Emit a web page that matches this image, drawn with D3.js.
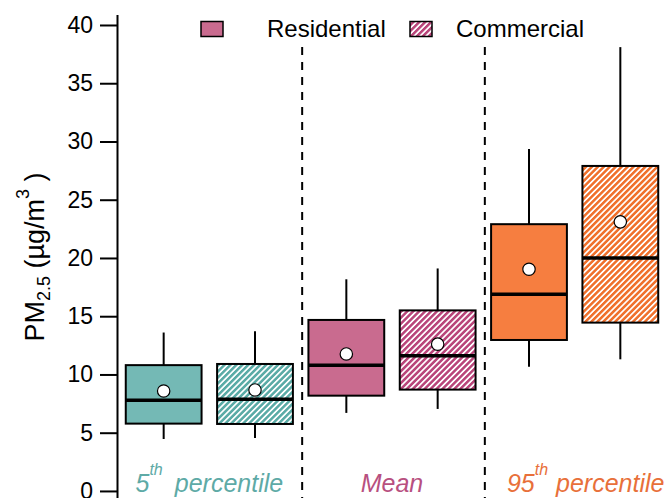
<!DOCTYPE html>
<html>
<head>
<meta charset="utf-8">
<script src="https://cdn.jsdelivr.net/npm/d3@7"></script>
<style>
  body { margin: 0; background: #fff; }
  text { font-family: "Liberation Sans", Arial, sans-serif; }
</style>
</head>
<body>
<div id="chart"></div>
<script>
var categories = ["5th", "Mean", "95th"];
var seriesNames = ["Residential", "Commercial"];

// one value per box, order: 5th Res, 5th Com, Mean Res, Mean Com, 95th Res, 95th Com
var whiskerLow  = [4.46, 4.55, 6.7, 7.04, 10.67, 11.3];
var q1Values    = [5.78, 5.75, 8.18, 8.7, 12.96, 14.45];
var medianVals  = [7.78, 7.87, 10.8, 11.6, 16.88, 20.0];
var q3Values    = [10.8, 10.9, 14.68, 15.5, 22.9, 27.9];
var whiskerHigh = [13.6, 13.7, 18.17, 19.1, 29.36, 38.1];
var meanValues  = [8.58, 8.67, 11.76, 12.6, 19.03, 23.1];

var yTicks = [0, 5, 10, 15, 20, 25, 30, 35, 40];

var colors = {"5th": "#74b9b5", "Mean": "#c96b8f", "95th": "#f67e40"};
var hatchColors = {"5th": "#5aaba6", "Mean": "#b9457a", "95th": "#f0702c"};
var labelColors = {"5th": "#5eaaa6", "Mean": "#b8507f", "95th": "#e8703a"};

var svgWidth = 670;
var svgHeight = 498;

var svg = d3.select("#chart")
    .append("svg")
    .attr("width", svgWidth)
    .attr("height", svgHeight);

// hatch patterns for commercial boxes
var defs = svg.append("defs");
categories.forEach(function(c) {
    var p = defs.append("pattern")
        .attr("id", "hatch-" + c)
        .attr("patternUnits", "userSpaceOnUse")
        .attr("width", 4.2)
        .attr("height", 4.2)
        .attr("patternTransform", "rotate(45)");
    p.append("rect")
        .attr("width", 4.2).attr("height", 4.2)
        .attr("fill", "#fff");
    p.append("rect")
        .attr("width", 2.5).attr("height", 4.2)
        .attr("fill", hatchColors[c]);
});

var boxes = [];
categories.forEach(function(c, gi) {
    seriesNames.forEach(function(s, si) {
        var i = gi * 2 + si;
        boxes.push({
            cat: c, series: s,
            low: whiskerLow[i], q1: q1Values[i], med: medianVals[i],
            q3: q3Values[i], high: whiskerHigh[i], mean: meanValues[i]
        });
    });
});

var x0 = d3.scaleBand()
    .domain(categories)
    .range([118, 666])
    .padding(0);

var x1 = d3.scaleBand()
    .domain(seriesNames)
    .range([0, x0.bandwidth()])
    .padding(0);

var boxW = x1.bandwidth() * 0.83;

var y = d3.scaleLinear()
    .domain([-1, 40.9])
    .range([502.6, 14.5]);

// dashed separators
svg.selectAll(".sep")
    .data(categories.slice(1))
    .enter()
    .append("line")
    .attr("x1", d => x0(d) + 1.5)
    .attr("x2", d => x0(d) + 1.5)
    .attr("y1", y(38.1))
    .attr("y2", svgHeight + 5)
    .attr("stroke", "#000")
    .attr("stroke-width", 2)
    .attr("stroke-dasharray", "8,7");

// y axis
var leftAxis = d3.axisLeft(y)
    .tickValues(yTicks)
    .tickSize(17)
    .tickSizeOuter(0)
    .tickPadding(7);

var axisG = svg.append("g")
    .attr("transform", "translate(117,0)")
    .call(leftAxis);
axisG.selectAll("path, line")
    .attr("stroke", "#000")
    .attr("stroke-width", 2);
axisG.selectAll("text")
    .attr("font-size", "23px")
    .attr("font-family", "Liberation Sans, Arial, sans-serif")
    .attr("fill", "#000");

var boxG = svg.selectAll(".box")
    .data(boxes)
    .enter()
    .append("g")
    .attr("transform", d => `translate(${x0(d.cat) + x1(d.series) + x1.bandwidth() / 2}, 0)`);

// whiskers
boxG.append("line")
    .attr("x1", 0).attr("x2", 0)
    .attr("y1", d => y(d.high))
    .attr("y2", d => y(d.q3))
    .attr("stroke", "#000")
    .attr("stroke-width", 2);
boxG.append("line")
    .attr("x1", 0).attr("x2", 0)
    .attr("y1", d => y(d.q1))
    .attr("y2", d => y(d.low))
    .attr("stroke", "#000")
    .attr("stroke-width", 2);

boxG.append("rect")
    .attr("x", -boxW / 2)
    .attr("width", boxW)
    .attr("y", d => y(d.q3))
    .attr("height", d => y(d.q1) - y(d.q3))
    .attr("fill", d => d.series == "Residential" ? colors[d.cat] : "url(#hatch-" + d.cat + ")")
    .attr("stroke", "#000")
    .attr("stroke-width", 2);

boxG.append("line")
    .attr("x1", -boxW / 2).attr("x2", boxW / 2)
    .attr("y1", d => y(d.med))
    .attr("y2", d => y(d.med))
    .attr("stroke", "#000")
    .attr("stroke-width", 3.5);

boxG.append("circle")
    .attr("cx", 0)
    .attr("cy", d => y(d.mean))
    .attr("r", 6.2)
    .attr("fill", "#fff")
    .attr("stroke", "#000")
    .attr("stroke-width", 1.2);

// category labels
var labelData = [
    {cat: "5th", main: "5", sup: "th", rest: "percentile"},
    {cat: "Mean", main: "Mean", sup: "", rest: ""},
    {cat: "95th", main: "95", sup: "th", rest: "percentile"}
];
labelData.forEach(function(l) {
    var t = svg.append("text")
        .attr("x", x0(l.cat) + x0.bandwidth() / 2 + (l.cat == "95th" ? 11 : 0))
        .attr("y", 492)
        .attr("text-anchor", "middle")
        .attr("font-size", "25px")
        .attr("font-style", "italic")
        .attr("fill", labelColors[l.cat]);
    t.append("tspan").text(l.main);
    if (l.sup) {
        t.append("tspan").attr("dy", -17).attr("font-size", "16px").text(l.sup);
        t.append("tspan").attr("dy", 17).attr("dx", l.cat == "95th" ? 8 : 12).text(l.rest);
    }
});

// y axis title
var yTitle = svg.append("text")
    .attr("transform", "translate(44,257) rotate(-90)")
    .attr("text-anchor", "middle")
    .attr("font-size", "27px")
    .attr("fill", "#000");
yTitle.append("tspan").text("PM");
yTitle.append("tspan").attr("dy", 6).attr("font-size", "18px").text("2.5");
yTitle.append("tspan").attr("dy", -6).text(" (µg/m");
yTitle.append("tspan").attr("dy", -15).attr("font-size", "18px").text("3");
yTitle.append("tspan").attr("dy", 15).text(" )");

// legend
var legendItems = [
    {name: "Residential", sx: 201, tx: 267},
    {name: "Commercial", sx: 410, tx: 456}
];
legendItems.forEach(function(d) {
    svg.append("rect")
        .attr("x", d.sx).attr("y", 21.5)
        .attr("width", 22).attr("height", 15)
        .attr("fill", d.name == "Residential" ? colors["Mean"] : "url(#hatch-Mean)")
        .attr("stroke", "#000")
        .attr("stroke-width", 1.5);
    svg.append("text")
        .attr("x", d.tx).attr("y", 36.5)
        .attr("font-size", "24px")
        .attr("fill", "#000")
        .text(d.name);
});
</script>
</body>
</html>
